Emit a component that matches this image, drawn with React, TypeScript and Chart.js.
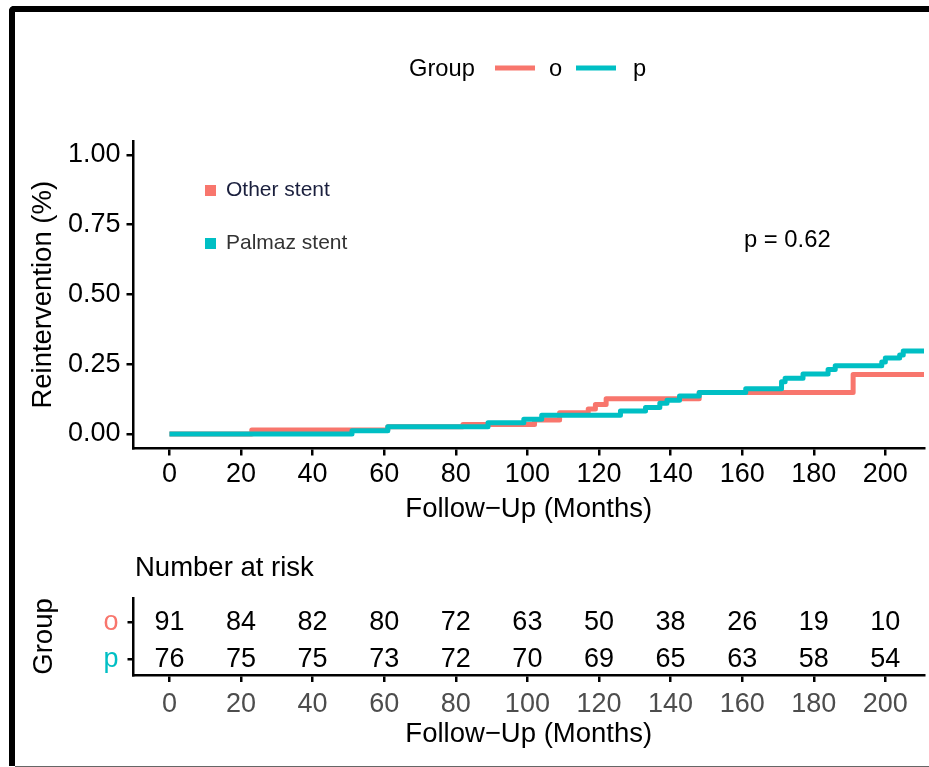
import React, { useEffect, useRef } from "react";
import { Chart, registerables } from "chart.js";

Chart.register(...registerables);

// ---------- data ----------
const monthTicks = [0, 20, 40, 60, 80, 100, 120, 140, 160, 180, 200];
const yTicks = [0, 0.25, 0.5, 0.75, 1.0];

// step times (months) and cumulative reintervention for group "o" (Other stent)
const otherTimes = [0, 23, 61, 82, 102, 109, 117, 119, 122, 148, 191, 211];
const otherRisk = [0, 0.014, 0.026, 0.034, 0.05, 0.076, 0.09, 0.106, 0.126, 0.149, 0.213, 0.213];

// step times (months) and cumulative reintervention for group "p" (Palmaz stent)
const palmazTimes = [0, 51, 61, 89, 99, 104, 126, 133, 137, 139, 142.5, 148, 161, 171, 172, 177, 184, 186, 199, 200, 204, 205, 211];
const palmazRisk = [0, 0.012, 0.026, 0.04, 0.053, 0.067, 0.082, 0.095, 0.11, 0.121, 0.136, 0.149, 0.162, 0.187, 0.2, 0.215, 0.231, 0.245, 0.258, 0.272, 0.283, 0.297, 0.297];

const groups = ["o", "p"];
const groupNames = ["Other stent", "Palmaz stent"];
const riskO = [91, 84, 82, 80, 72, 63, 50, 38, 26, 19, 10];
const riskP = [76, 75, 75, 73, 72, 70, 69, 65, 63, 58, 54];
const pValueText = "p = 0.62";

// ---------- styles ----------
const FONT = '"Liberation Sans", Arial, Helvetica, sans-serif';
const RED = "#F8766D";
const TEAL = "#00BFC4";
const colors = [RED, TEAL];
const X_MIN = -10.04;
const X_MAX = 210.8;
const TICK_SIZE = 27;
const TITLE_SIZE = 27.5;

const toPoints = (t: number[], v: number[]) => t.map((x, i) => ({ x, y: v[i] }));

const mainDecor = {
  id: "mainDecor",
  afterDraw(chart: any) {
    const { ctx, chartArea } = chart;
    ctx.save();
    // top legend
    ctx.fillStyle = "#000";
    ctx.font = `23.7px ${FONT}`;
    ctx.textBaseline = "alphabetic";
    ctx.textAlign = "left";
    ctx.fillText("Group", 409, 76);
    const legendX = [495, 576];
    const textX = [549, 633];
    groups.forEach((g, i) => {
      ctx.strokeStyle = colors[i];
      ctx.lineWidth = 5;
      ctx.beginPath();
      ctx.moveTo(legendX[i], 68);
      ctx.lineTo(legendX[i] + 40, 68);
      ctx.stroke();
      ctx.fillStyle = "#000";
      ctx.fillText(g, textX[i], 76);
    });
    // inner legend
    ctx.font = `21px ${FONT}`;
    const textColors = ["#1a1f3d", "#333333"];
    const rowY = [196, 249];
    groupNames.forEach((name, i) => {
      ctx.fillStyle = colors[i];
      ctx.fillRect(205, rowY[i] - 11, 11, 11);
      ctx.fillStyle = textColors[i];
      ctx.fillText(name, 226, rowY[i]);
    });
    // p-value
    ctx.fillStyle = "#000";
    ctx.font = `23.8px ${FONT}`;
    ctx.fillText(pValueText, 744, 247);
    // axis titles
    ctx.font = `${TITLE_SIZE}px ${FONT}`;
    ctx.textAlign = "center";
    ctx.textBaseline = "middle";
    ctx.fillText("Follow\u2212Up (Months)", (chartArea.left + chartArea.right) / 2, 509);
    ctx.save();
    ctx.translate(43, (chartArea.top + chartArea.bottom) / 2);
    ctx.rotate(-Math.PI / 2);
    ctx.fillText("Reintervention (%)", 0, 0);
    ctx.restore();
    ctx.restore();
  },
};

const riskDecor = {
  id: "riskDecor",
  afterDatasetsDraw(chart: any) {
    const { ctx, chartArea } = chart;
    ctx.save();
    ctx.fillStyle = "#000";
    ctx.font = `${TICK_SIZE}px ${FONT}`;
    ctx.textAlign = "center";
    ctx.textBaseline = "middle";
    chart.data.datasets.forEach((ds: any, di: number) => {
      const meta = chart.getDatasetMeta(di);
      meta.data.forEach((pt: any, j: number) => {
        ctx.fillText(String(ds.data[j].n), pt.x, pt.y);
      });
    });
    ctx.font = `${TITLE_SIZE}px ${FONT}`;
    ctx.fillText("Follow\u2212Up (Months)", (chartArea.left + chartArea.right) / 2, 194);
    ctx.textAlign = "left";
    ctx.fillText("Number at risk", 135, 28.5);
    ctx.save();
    ctx.textAlign = "center";
    ctx.translate(44, 96.5);
    ctx.rotate(-Math.PI / 2);
    ctx.fillText("Group", 0, 0);
    ctx.restore();
    ctx.restore();
  },
};

const axisCommon = (tickColor: string, pad: number) => ({
  grid: {
    display: true,
    drawOnChartArea: false,
    drawTicks: true,
    tickLength: 7,
    color: "#000",
    lineWidth: 2.5,
  },
  border: { display: true, color: "#000", width: 2.5 },
  ticks: { color: tickColor, font: { family: FONT, size: TICK_SIZE }, padding: pad, maxRotation: 0, autoSkip: false },
});

export default function App() {
  const mainRef = useRef<HTMLCanvasElement>(null);
  const riskRef = useRef<HTMLCanvasElement>(null);

  useEffect(() => {
    document.body.style.margin = "0";
    const main = new Chart(mainRef.current as HTMLCanvasElement, {
      type: "line",
      data: {
        datasets: [
          {
            label: groups[0],
            data: toPoints(otherTimes, otherRisk),
            borderColor: RED,
            backgroundColor: RED,
            borderWidth: 5,
            stepped: true,
            pointRadius: 0,
            fill: false,
            order: 1,
            borderJoinStyle: "round",
          },
          {
            label: groups[1],
            data: toPoints(palmazTimes, palmazRisk),
            borderColor: TEAL,
            backgroundColor: TEAL,
            borderWidth: 5,
            stepped: true,
            pointRadius: 0,
            fill: false,
            order: 0,
            borderJoinStyle: "round",
          },
        ] as any,
      },
      options: {
        responsive: false,
        devicePixelRatio: 1,
        animation: false,
        layout: { padding: { top: 141, left: 0, right: 929 - 924, bottom: 0 } },
        plugins: { legend: { display: false }, tooltip: { enabled: false }, title: { display: false } },
        scales: {
          x: {
            type: "linear",
            min: X_MIN,
            max: X_MAX,
            ...axisCommon("#000", 3.2),
            afterBuildTicks: (s: any) => {
              s.ticks = monthTicks.map((v) => ({ value: v }));
            },
            afterFit: (s: any) => {
              s.height = 91.5;
            },
          },
          y: {
            type: "linear",
            min: -0.052,
            max: 1.05,
            ...axisCommon("#000", 6),
            ticks: { ...axisCommon("#000", 6).ticks, callback: (v: any) => Number(v).toFixed(2) },
            afterBuildTicks: (s: any) => {
              s.ticks = yTicks.map((v) => ({ value: v }));
            },
            afterFit: (s: any) => {
              s.width = 133.5;
            },
          },
        } as any,
      },
      plugins: [mainDecor],
    });

    const risk = new Chart(riskRef.current as HTMLCanvasElement, {
      type: "scatter",
      data: {
        datasets: [riskO, riskP].map((arr, gi) => ({
          label: groups[gi],
          data: monthTicks.map((m, j) => ({ x: m, y: groups.length - gi, n: arr[j] })),
          pointRadius: 0,
          borderWidth: 0,
        })) as any,
      },
      options: {
        responsive: false,
        devicePixelRatio: 1,
        animation: false,
        layout: { padding: { top: 58, left: 0, right: 929 - 924, bottom: 0 } },
        plugins: { legend: { display: false }, tooltip: { enabled: false }, title: { display: false } },
        scales: {
          x: {
            type: "linear",
            min: X_MIN,
            max: X_MAX,
            ...axisCommon("#4D4D4D", 6.2),
            afterBuildTicks: (s: any) => {
              s.ticks = monthTicks.map((v) => ({ value: v }));
            },
            afterFit: (s: any) => {
              s.height = 92;
            },
          },
          y: {
            type: "linear",
            min: 0.569,
            max: 2.65,
            ...axisCommon("#000", 9),
            grid: { ...axisCommon("#000", 9).grid, tickLength: 6 },
            ticks: {
              ...axisCommon("#000", 9).ticks,
              color: (c: any) => colors[groups.length - c.tick.value],
              callback: (v: any) => groups[groups.length - Number(v)],
            },
            afterBuildTicks: (s: any) => {
              s.ticks = groups.map((g, i) => ({ value: groups.length - i }));
            },
            afterFit: (s: any) => {
              s.width = 133.5;
            },
          },
        } as any,
      },
      plugins: [riskDecor],
    });

    return () => {
      main.destroy();
      risk.destroy();
    };
  }, []);

  return (
    <div style={{ position: "absolute", left: 0, top: 0, width: 929, height: 767, overflow: "hidden", background: "#fff" }}>
      <canvas ref={mainRef} width={929} height={540} style={{ position: "absolute", left: 0, top: 0, width: 929, height: 540 }} />
      <canvas ref={riskRef} width={929} height={227} style={{ position: "absolute", left: 0, top: 540, width: 929, height: 227 }} />
      <div
        style={{
          position: "absolute",
          left: 9,
          top: 6,
          width: 960,
          height: 754,
          borderLeft: "6px solid #000",
          borderTop: "6px solid #000",
          borderTopLeftRadius: 5,
          pointerEvents: "none",
        }}
      />
      <div style={{ position: "absolute", left: 15, top: 766, width: 914, height: 1, background: "#666", pointerEvents: "none" }} />
    </div>
  );
}
